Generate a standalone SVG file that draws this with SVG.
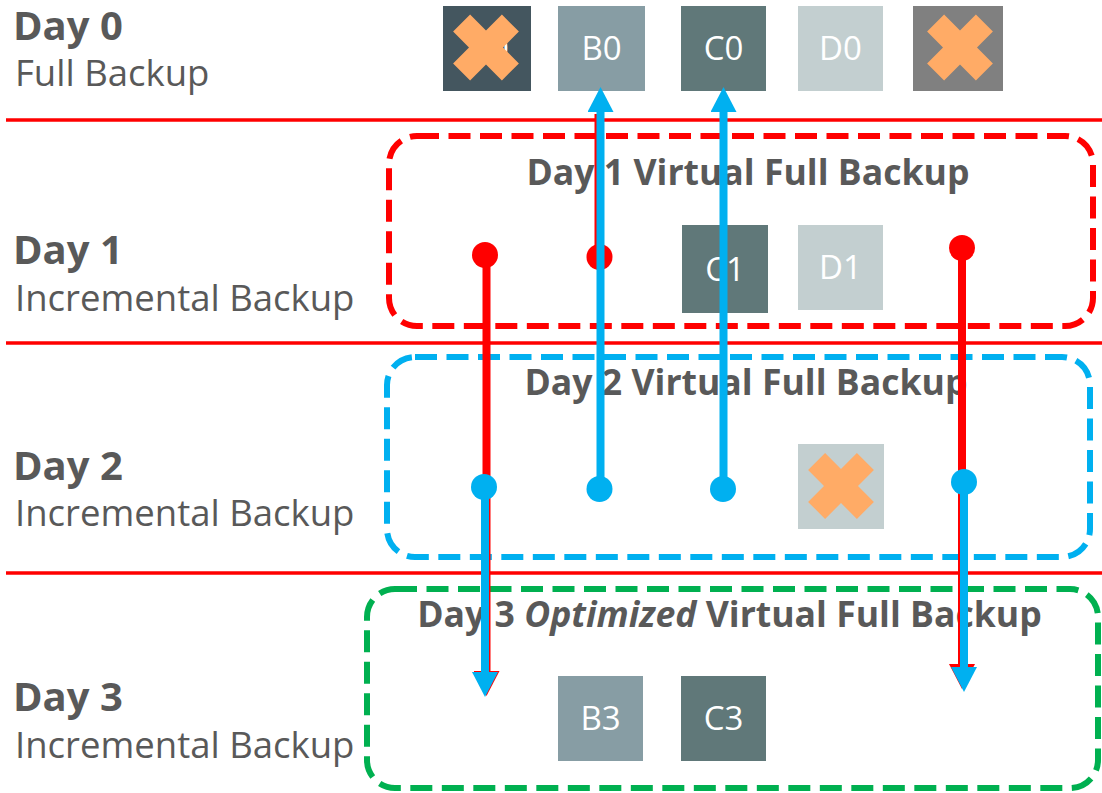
<svg xmlns="http://www.w3.org/2000/svg" xmlns:xlink="http://www.w3.org/1999/xlink" width="1102" height="793" viewBox="0 0 1102 793">
<style>
.lbl{font-family:"Open Sans","Liberation Sans",sans-serif;fill:#595959;}
.day{font-size:40px;font-weight:bold;}
.sub{font-size:36.5px;}
.title{font-family:"Open Sans","Liberation Sans",sans-serif;fill:#595959;font-size:35.6px;font-weight:bold;text-anchor:middle;}
.bt{font-family:"Open Sans","Liberation Sans",sans-serif;fill:#ffffff;font-size:33px;text-anchor:middle;}
.sep{stroke:#ff0000;stroke-width:3.5;}
.dash{fill:none;stroke-width:6;stroke-dasharray:22 9.5;}
.cA{fill:#44565f;}
.cB{fill:#879da4;}
.cC{fill:#607879;}
.cD{fill:#c3cfd0;}
.cE{fill:#808080;}
.xm{fill:#ffab66;}
.blue{stroke:#00b0f0;stroke-width:8;fill:none;}
.red{stroke:#ff0000;stroke-width:8;fill:none;}
</style>
<defs>
<polygon id="xmark" points="0,-17 15.9,-32.9 32.9,-15.9 17,0 32.9,15.9 15.9,32.9 0,17 -15.9,32.9 -32.9,15.9 -17,0 -32.9,-15.9 -15.9,-32.9"/>
<marker id="ab" markerUnits="userSpaceOnUse" markerWidth="25" markerHeight="26" viewBox="0 0 25 26" refX="0" refY="13" orient="auto"><path d="M0,0 L25,13 L0,26 Z" fill="#00b0f0"/></marker>
<marker id="ar" markerUnits="userSpaceOnUse" markerWidth="25" markerHeight="26" viewBox="0 0 25 26" refX="0" refY="13" orient="auto"><path d="M0,0 L25,13 L0,26 Z" fill="#ff0000"/></marker>
</defs>

<g id="separators">
<line class="sep" x1="6" y1="120" x2="1102" y2="120"/>
<line class="sep" x1="6" y1="343" x2="1102" y2="343"/>
<line class="sep" x1="6" y1="573" x2="1102" y2="573"/>
</g>

<g id="labels">
<text class="lbl day" x="13" y="40">Day 0</text>
<text class="lbl sub" x="15" y="86">Full Backup</text>
<text class="lbl day" x="13" y="264">Day 1</text>
<text class="lbl sub" x="15" y="311">Incremental Backup</text>
<text class="lbl day" x="13" y="480">Day 2</text>
<text class="lbl sub" x="15" y="526">Incremental Backup</text>
<text class="lbl day" x="13" y="711">Day 3</text>
<text class="lbl sub" x="15" y="758">Incremental Backup</text>
</g>

<g id="day1-virtual-full">
<rect class="dash" x="389" y="136" width="704" height="190" rx="28" stroke="#ff0000"/>
<text class="title" x="748" y="185">Day 1 Virtual Full Backup</text>
</g>
<g id="day2-virtual-full">
<rect class="dash" x="387" y="357" width="703" height="200" rx="28" stroke="#00b0f0"/>
<text class="title" x="746" y="395">Day 2 Virtual Full Backup</text>
</g>
<g id="day3-optimized-virtual-full">
<rect class="dash" x="367" y="589" width="731" height="199" rx="28" stroke="#00b050"/>
<text class="title" x="729.5" y="627">Day 3 <tspan font-style="italic">Optimized</tspan> Virtual Full Backup</text>
</g>

<g id="A0"><rect class="cA" x="443" y="6" width="88" height="85"/><text class="bt" x="489" y="60">A0</text><use xlink:href="#xmark" class="xm" x="486" y="47.5"/></g>
<g id="B0"><rect class="cB" x="558" y="6" width="87" height="85"/><text class="bt" x="601.5" y="60">B0</text></g>
<g id="C0"><rect class="cC" x="681" y="6" width="85" height="85"/><text class="bt" x="723.5" y="60">C0</text></g>
<g id="D0"><rect class="cD" x="798" y="6" width="85" height="85"/><text class="bt" x="840.5" y="60">D0</text></g>
<g id="E0"><rect class="cE" x="913" y="6" width="90" height="85"/><use xlink:href="#xmark" class="xm" x="960" y="47.5"/></g>

<g id="C1"><rect class="cC" x="682" y="225" width="86" height="88"/><text class="bt" x="725" y="281">C1</text></g>
<g id="D1"><rect class="cD" x="798" y="225" width="85" height="85"/><text class="bt" x="840.5" y="279">D1</text></g>

<g id="D2"><rect class="cD" x="798" y="444" width="86" height="85"/><use xlink:href="#xmark" class="xm" x="841" y="486"/></g>

<g id="B3"><rect class="cB" x="558" y="676" width="85" height="85"/><text class="bt" x="600.5" y="730">B3</text></g>
<g id="C3"><rect class="cC" x="681" y="676" width="85" height="85"/><text class="bt" x="723.5" y="730">C3</text></g>

<g id="connectors">
<line class="red" x1="486.5" y1="255" x2="486.5" y2="671" marker-end="url(#ar)"/>
<circle cx="485" cy="255" r="13" fill="#ff0000"/>
<line class="red" x1="962" y1="248" x2="962" y2="664" marker-end="url(#ar)"/>
<circle cx="962" cy="248" r="13" fill="#ff0000"/>
<line class="red" x1="598.5" y1="257" x2="598.5" y2="114"/>
<circle cx="599.5" cy="257" r="13" fill="#ff0000"/>

<line class="blue" x1="600.5" y1="489" x2="600.5" y2="112" marker-end="url(#ab)"/>
<circle cx="599.5" cy="489" r="13" fill="#00b0f0"/>
<line class="blue" x1="723.5" y1="489" x2="723.5" y2="112" marker-end="url(#ab)"/>
<circle cx="723" cy="489" r="13" fill="#00b0f0"/>
<line class="blue" x1="485" y1="487" x2="485" y2="672" marker-end="url(#ab)"/>
<circle cx="484" cy="487" r="13" fill="#00b0f0"/>
<line class="blue" x1="964" y1="482" x2="964" y2="667" marker-end="url(#ab)"/>
<circle cx="964" cy="482" r="13" fill="#00b0f0"/>
</g>
</svg>
